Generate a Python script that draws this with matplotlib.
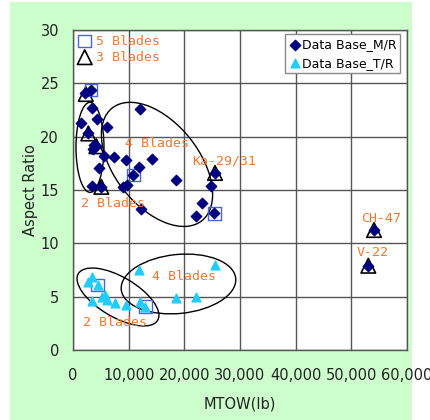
import numpy as np
import matplotlib
matplotlib.use('Agg')
import matplotlib.pyplot as plt
from matplotlib.patches import Ellipse, Rectangle
from matplotlib.ticker import FuncFormatter
import matplotlib.transforms as mtransforms

# main rotor data base (MTOW lb, aspect ratio)
mr_x = [2210, 3230, 3350, 12040, 1500, 4370, 6050, 2750, 3830, 3650, 4130,
        5630, 7420, 9460, 14250, 11860, 4610, 10840, 18560, 3470, 5090,
        9040, 9640, 24730, 25510, 12220, 23170, 22090, 25390, 54070, 53050]
mr_y = [24.1, 24.4, 22.7, 22.6, 21.3, 21.7, 20.9, 20.3, 19.2, 18.8, 19.1,
        18.2, 18.1, 17.8, 17.9, 17.2, 17.1, 16.4, 15.9, 15.4, 15.3,
        15.3, 15.5, 15.4, 16.6, 13.2, 13.75, 12.6, 12.8, 11.25, 7.9]

# tail rotor data base
tr_x = [3470, 2750, 4430, 3470, 5150, 5750, 6050, 7540, 9460, 12040, 13000,
        11860, 18560, 22090, 25450]
tr_y = [6.8, 6.4, 6.1, 4.6, 5.0, 5.2, 4.7, 4.4, 4.2, 4.5, 4.06,
        7.5, 4.9, 5.0, 8.0]

# 5 blades / 3 blades highlights
five_x = [3230, 10840, 25390, 4430, 13000]
five_y = [24.4, 16.4, 12.8, 6.1, 4.06]
three_x = [2300, 2750, 4200, 5090, 25510, 54070, 53050]
three_y = [24.0, 20.3, 19.1, 15.3, 16.6, 11.25, 7.9]

# group ellipses: center (lb, AR), width px, height px, angle deg
groups = [
    ((3050, 19.0), 28, 90, 0),
    ((15090, 17.4), 144, 84, -51.4),
    ((8080, 4.97), 92, 40, -30.4),
    ((18950, 6.19), 115, 59, 5.6),
]

labels = [
    ('4 Blades', 9340, 19.4),
    ('Ka-29/31', 21320, 17.75),
    ('2 Blades', 1380, 13.75),
    ('CH-47', 51730, 12.35),
    ('V-22', 51010, 9.12),
    ('4 Blades', 14140, 6.87),
    ('2 Blades', 1800, 2.56),
]

orange = '#F07830'
mono = 'DejaVu Sans Mono'

fig = plt.figure(figsize=(4.31, 4.20), dpi=100)
fig.patches.append(Rectangle((10/431, 0), 402/431, 418/420, transform=fig.transFigure,
                             facecolor='#CCFFCC', edgecolor='none', zorder=-10))
ax = fig.add_axes([73/431, 70/420, 334/431, 320/420])
ax.set_facecolor('white')

ax.set_xlim(0, 60000)
ax.set_ylim(0, 30)
ax.set_xticks(np.arange(0, 60001, 10000))
ax.set_yticks(np.arange(0, 31, 5))
ax.xaxis.set_major_formatter(FuncFormatter(lambda v, p: '{:,.0f}'.format(v)))
ax.grid(True, color='#555555', linewidth=1.0)
ax.set_axisbelow(True)
for s in ax.spines.values():
    s.set_color('#555555')
    s.set_linewidth(1.0)
ax.tick_params(length=0, labelsize=10.5, colors='#222222')
ax.tick_params(axis='x', pad=13)
ax.tick_params(axis='y', pad=10)
ax.set_xlabel('MTOW(lb)', fontsize=10.5, color='#222222', labelpad=10)
ax.set_ylabel('Aspect Ratio', fontsize=10.5, color='#222222', labelpad=1.5)

for (cx, cy), w, h, ang in groups:
    trans = fig.dpi_scale_trans + mtransforms.ScaledTranslation(cx, cy, ax.transData)
    ax.add_patch(Ellipse((0, 0), w / 100, h / 100, angle=ang, transform=trans,
                         fill=False, edgecolor='black', linewidth=1.0, zorder=3))

ax.scatter(three_x, three_y, marker='^', s=110, facecolors='none',
           edgecolors='black', linewidths=1.2, zorder=4)
ax.scatter(five_x, five_y, marker='s', s=80, facecolors='none',
           edgecolors='#4466DD', linewidths=1.0, zorder=4)
ax.scatter(mr_x, mr_y, marker='D', s=28, color='#000080', zorder=5,
           label='Data Base_M/R')
ax.scatter(tr_x, tr_y, marker='^', s=40, color='#22CCFF', zorder=5,
           label='Data Base_T/R')

for txt, x, y in labels:
    ax.text(x, y, txt, color=orange, fontsize=9.5, family=mono,
            va='center', ha='left', zorder=6)

# blade-count key at top left
ax.scatter([0.035], [0.965], marker='s', s=80, facecolors='none',
           edgecolors='#4466DD', linewidths=1.0, transform=ax.transAxes, clip_on=False)
ax.scatter([0.035], [0.915], marker='^', s=110, facecolors='none',
           edgecolors='black', linewidths=1.2, transform=ax.transAxes, clip_on=False)
ax.text(0.068, 0.965, '5 Blades', color=orange, fontsize=9.5, family=mono,
        va='center', transform=ax.transAxes)
ax.text(0.068, 0.915, '3 Blades', color=orange, fontsize=9.5, family=mono,
        va='center', transform=ax.transAxes)

leg = ax.legend(loc='upper right', bbox_to_anchor=(0.979, 0.987), fontsize=9,
                fancybox=False, edgecolor='#888888', framealpha=1,
                handletextpad=0.0, handlelength=1.0, borderpad=0.3,
                labelspacing=0.45, scatterpoints=1, borderaxespad=0)
leg.get_frame().set_linewidth(1.0)

fig.savefig('out.png', dpi=100, facecolor='white')
